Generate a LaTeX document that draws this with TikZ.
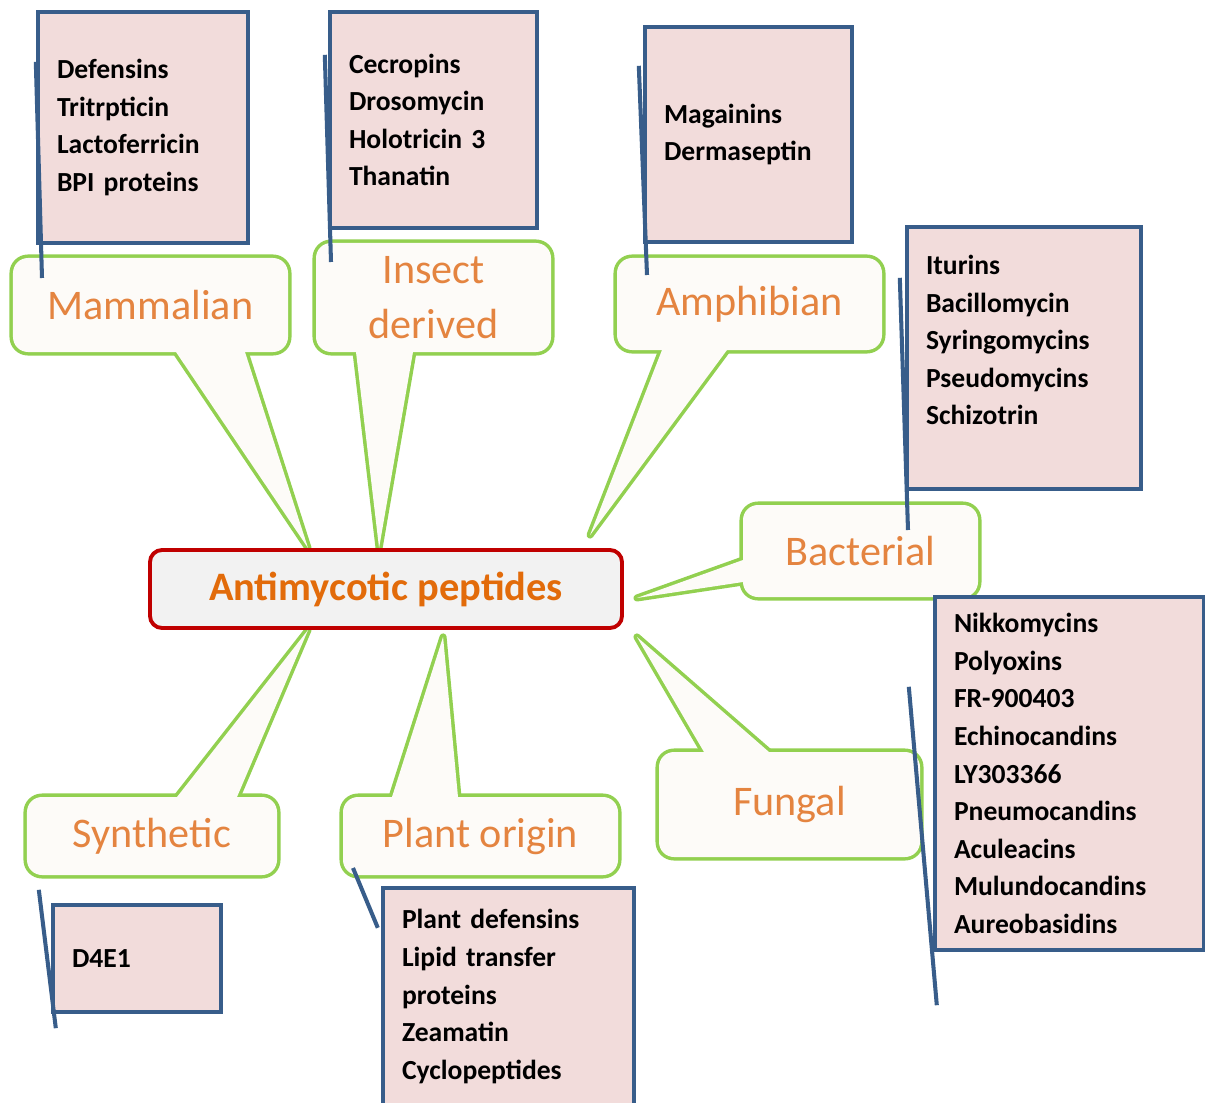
\documentclass[tikz,border=0pt]{standalone}
\usepackage{fontspec}
\setmainfont{Carlito}
\usepackage{xcolor}
\usetikzlibrary{positioning,calc,backgrounds}

\definecolor{listfill}{RGB}{242,220,219}
\definecolor{listline}{RGB}{56,93,138}
\definecolor{balgreen}{RGB}{146,208,80}
\definecolor{balfill}{RGB}{253,251,248}
\definecolor{corered}{RGB}{192,0,0}
\definecolor{coregray}{RGB}{242,242,242}
\definecolor{labelorange}{RGB}{228,132,64}
\definecolor{coreorange}{RGB}{226,107,10}

\begin{document}
\begin{tikzpicture}[
    core/.style={rectangle, rounded corners=0.24cm, draw=corered, line width=2.2pt,
      fill=coregray, text=coreorange, font=\fontsize{23}{28}\selectfont\bfseries,
      minimum width=9.44cm, minimum height=1.56cm},
    balloon/.style 2 args={rectangle, rounded corners=0.3cm, fill=balfill, outer sep=0pt,
      text=labelorange, font=\fontsize{24}{31.5}\selectfont, align=center,
      minimum width=#1, minimum height=#2},
    rim/.style={draw=balgreen, line width=4pt, line join=round},
    listbox/.style 2 args={rectangle, draw=listline, fill=listfill, line width=2.5pt,
      inner xsep=0.38cm, align=left, text width=#1, minimum height=#2,
      font=\fontsize{15.7}{21.4}\selectfont\bfseries},
    tail/.style={draw=listline, line width=2.3pt}
  ]
    \useasboundingbox (0,0) rectangle (24.1,-22.06);

    % nó central
    \node[core] (core) at (7.72,-11.78) {Antimycotic peptides};

    % balões de origem
    \node[balloon={5.5cm}{1.88cm}] (mam) at (3.01,-6.10) {Mammalian};
    \node[balloon={4.7cm}{2.18cm}] (ins) at (8.67,-5.95) {Insect\\derived};
    \node[balloon={5.3cm}{1.84cm}] (amp) at (14.99,-6.08) {Amphibian};
    \node[balloon={4.7cm}{1.84cm}] (bac) at (17.21,-11.02) {Bacterial};
    \node[balloon={5.22cm}{2.1cm}] (fun) at (15.79,-16.09) {Fungal};
    \node[balloon={5.0cm}{1.56cm}] (syn) at (3.04,-16.72) {Synthetic};
    \node[balloon={5.5cm}{1.56cm}] (pla) at (9.61,-16.72) {Plant origin};

    % bases e pontas dos balões
    \coordinate (mamA) at ($(mam.south west)+(3.26,0)$);
    \coordinate (mamB) at ($(mam.south west)+(4.64,0)$);
    \coordinate (mamTip) at ($(core.north west)+(3.2,0)$);
    \coordinate (insA) at ($(ins.south west)+(0.8,0)$);
    \coordinate (insB) at ($(ins.south west)+(1.94,0)$);
    \coordinate (insTip) at ($(core.north west)+(4.62,0)$);
    \coordinate (ampA) at ($(amp.south west)+(0.9,0)$);
    \coordinate (ampB) at ($(amp.south west)+(2.2,0)$);
    \coordinate (ampTip) at ($(core.north west)+(8.84,0.26)$);
    \coordinate (bacA) at ($(bac.north west)+(0,-1.1)$);
    \coordinate (bacB) at ($(bac.north west)+(0,-1.54)$);
    \coordinate (bacTip) at ($(core.east)+(0.26,-0.18)$);
    \coordinate (funA) at ($(fun.north west)+(0.9,0)$);
    \coordinate (funB) at ($(fun.north west)+(2.2,0)$);
    \coordinate (funTip) at ($(core.south east)+(0.26,-0.14)$);
    \coordinate (synA) at ($(syn.north west)+(3.0,0)$);
    \coordinate (synB) at ($(syn.north west)+(4.2,0)$);
    \coordinate (synTip) at ($(core.south west)+(3.2,0)$);
    \coordinate (plaA) at ($(pla.north west)+(0.98,0)$);
    \coordinate (plaB) at ($(pla.north west)+(2.3,0)$);
    \coordinate (plaTip) at ($(core.south west)+(5.9,-0.14)$);

    % contorno verde por trás, enchimento por cima
    \foreach \b in {mam,ins,amp,bac,fun,syn,pla}{
      \fill[balfill] (\b A) -- (\b Tip) -- (\b B) -- cycle;
      \begin{scope}[on background layer]
        \draw[rim, rounded corners=0.3cm] (\b.south west) rectangle (\b.north east);
        \draw[rim] (\b A) -- (\b Tip) -- (\b B);
      \end{scope}
    }

    % caixas de exemplos
    \node[listbox={3.44cm}{4.62cm}] (mamBox) at (2.86,-2.55)
        {Defensins\\Tritrpticin\\Lactoferricin\\BPI proteins};
    \node[listbox={3.38cm}{4.32cm}] (insBox) at (8.67,-2.40)
        {Cecropins\\Drosomycin\\Holotricin 3\\Thanatin};
    \node[listbox={3.38cm}{4.30cm}] (ampBox) at (14.97,-2.69)
        {Magainins\\Dermaseptin};
    \node[listbox={3.92cm}{5.24cm}] (bacBox) at (20.48,-7.16)
        {Iturins\\Bacillomycin\\Syringomycins\\Pseudomycins\\Schizotrin\rule[-0.72cm]{0pt}{0pt}};
    \node[listbox={4.62cm}{7.06cm}] (funBox) at (21.39,-15.47)
        {Nikkomycins\\Polyoxins\\FR-900403\\Echinocandins\\LY303366\\Pneumocandins\\Aculeacins\\Mulundocandins\\Aureobasidins};
    \node[listbox={2.60cm}{2.14cm}] (synBox) at (2.74,-19.17) {D4E1};
    \node[listbox={4.26cm}{4.34cm}] (plaBox) at (10.17,-19.93)
        {Plant defensins\\Lipid transfer\\proteins\\Zeamatin\\Cyclopeptides};

    % linhas de chamada das caixas
    \coordinate (funEnd) at ($(funBox.south west)+(0.08,-1.06)$);
    \draw[tail] ($(mamBox.north west)+(0,-1.04)$) -- ($(mam.north west)+(0.58,-0.4)$);
    \draw[tail] ($(insBox.north west)+(-0.06,-0.9)$) -- ($(ins.north west)+(0.3,-0.38)$);
    \draw[tail] ($(ampBox.north west)+(-0.08,-0.82)$) -- ($(amp.north west)+(0.6,-0.34)$);
    \draw[tail] ($(bacBox.north west)+(-0.1,-1.06)$) -- ($(bac.north west)+(3.3,-0.5)$);
    \draw[tail] ($(funBox.north west)+(-0.48,-1.84)$) -- (funEnd);
    \draw[tail] ($(synBox.north west)+(-0.24,0.26)$) -- ($(synBox.south west)+(0.1,-0.28)$);
    \draw[tail] ($(pla.south west)+(0.2,0.14)$) -- ($(plaBox.north west)+(-0.06,-0.84)$);
\end{tikzpicture}
\end{document}
